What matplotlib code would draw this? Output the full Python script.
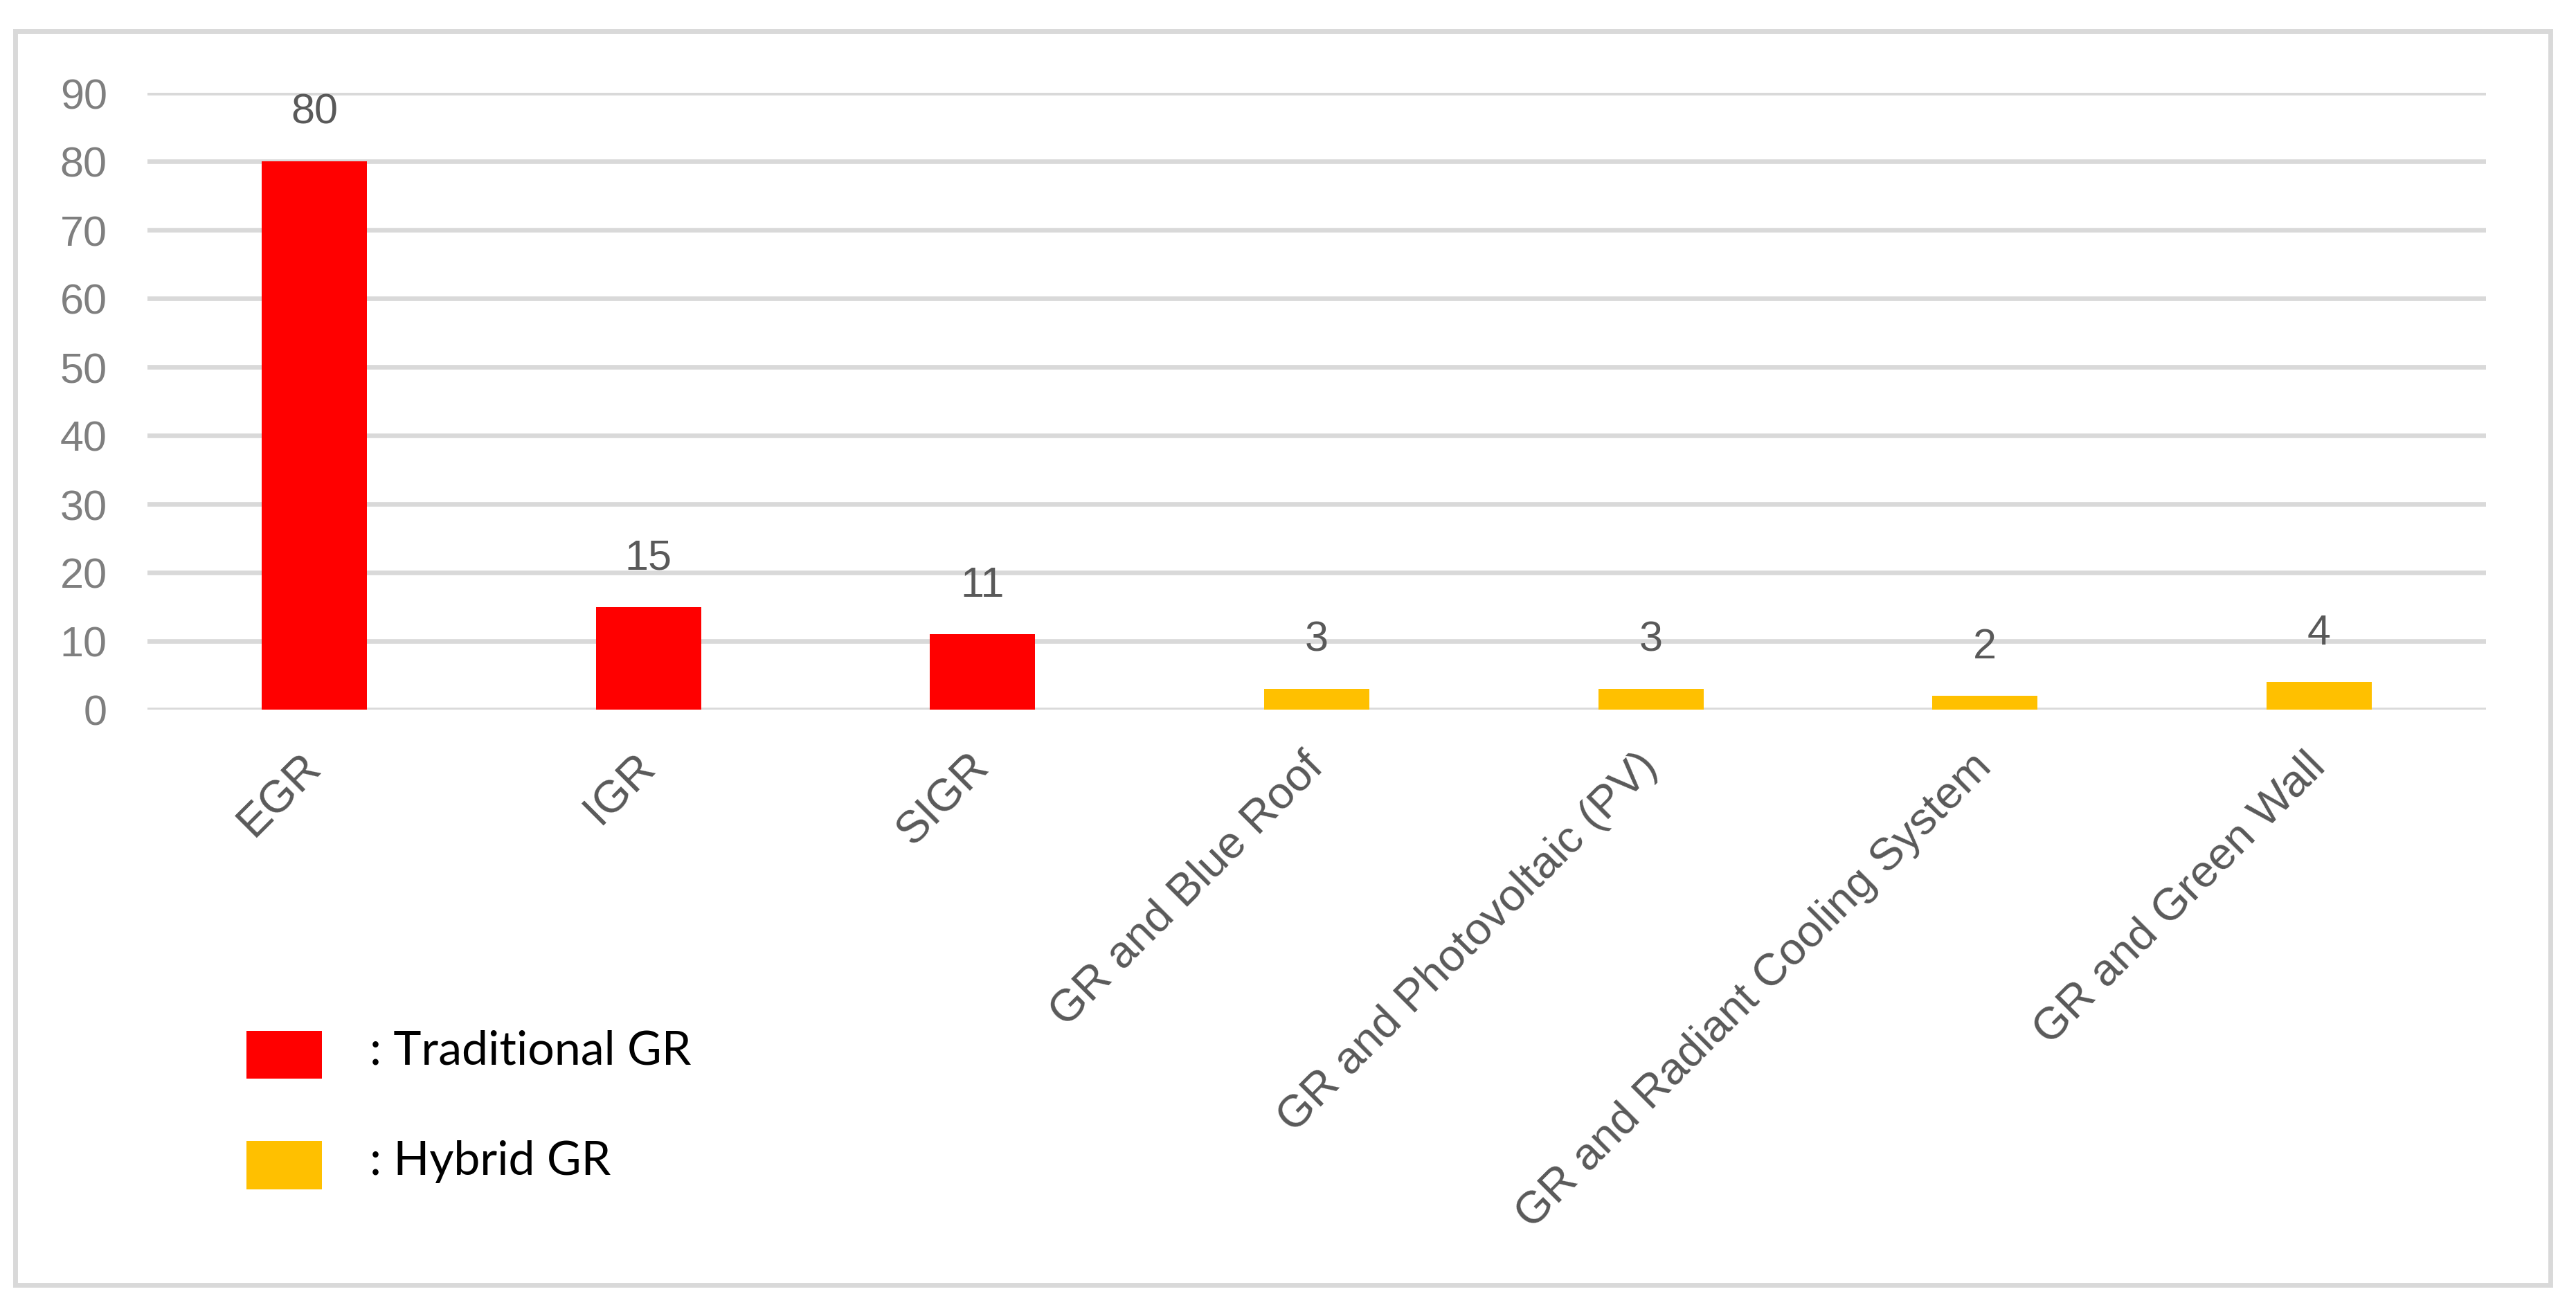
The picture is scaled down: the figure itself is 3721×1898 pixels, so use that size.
import matplotlib
matplotlib.use("Agg")
import matplotlib.pyplot as plt
from matplotlib.patches import Rectangle

plt.rcParams['font.family'] = ['Liberation Sans', 'DejaVu Sans']

# data
categories = ['EGR', 'IGR', 'SIGR', 'GR and Blue Roof', 'GR and Photovoltaic (PV)',
              'GR and Radiant Cooling System', 'GR and Green Wall']
counts = [80, 15, 11, 3, 3, 2, 4]
groups = ['Traditional', 'Traditional', 'Traditional', 'Hybrid', 'Hybrid', 'Hybrid', 'Hybrid']
group_colors = {'Traditional': '#FF0000', 'Hybrid': '#FFC000'}
legend_labels = [': Traditional GR', ': Hybrid GR']
yticks = list(range(0, 91, 10))

W, H = 3721, 1899
fig = plt.figure(figsize=(W / 100, H / 100), dpi=100)

# axes placed in pixel terms of the reference
left, right, top, bottom = 213, 3591, 135, 1026
ax = fig.add_axes([left / W, 1 - bottom / H, (right - left) / W, (bottom - top) / H])

x = range(len(categories))
bars = ax.bar(x, counts, width=0.315, color=[group_colors[g] for g in groups], zorder=3)

ax.set_xlim(-0.5, len(categories) - 0.5)
ax.set_ylim(0, 90)
ax.set_yticks(yticks)
ax.yaxis.grid(True, color='#D9D9D9', linewidth=4.8, zorder=0)
ax.set_axisbelow(True)
for s in ax.spines.values():
    s.set_visible(False)

ax.tick_params(axis='y', length=0, pad=42, labelsize=44, labelcolor='#7F7F7F')
ax.tick_params(axis='x', length=0, pad=52, labelsize=47, labelcolor='#595959')
ax.set_xticks(list(x))
ax.set_xticklabels(categories, rotation=45, ha='right', va='center', rotation_mode='anchor')

# value labels above bars
for b, v in zip(bars, counts):
    ax.annotate(str(v), (b.get_x() + b.get_width() / 2, v), xytext=(0, 51),
                textcoords='offset points', ha='center', va='center',
                fontsize=44, color='#595959')

# hand-made legend
sw_x0, sw_x1 = 356, 465
sw_rows = [(1490, 1559, 1538), (1649, 1719, 1697)]
for (y0, y1, base), lab, col in zip(sw_rows, legend_labels, group_colors.values()):
    fig.add_artist(Rectangle((sw_x0 / W, 1 - y1 / H), (sw_x1 - sw_x0) / W, (y1 - y0) / H,
                             transform=fig.transFigure, color=col, lw=0))
    fig.text(534 / W, 1 - base / H, lab, fontsize=49, color='black',
             family=['Lato', 'DejaVu Sans'], va='baseline', ha='left')

# outer frame
fx0, fx1, fy0, fy1 = 22, 3684, 46, 1857
fig.add_artist(Rectangle((fx0 / W, 1 - fy1 / H), (fx1 - fx0) / W, (fy1 - fy0) / H,
                         transform=fig.transFigure, fill=False, edgecolor='#D9D9D9', lw=5))

fig.savefig('out.png', dpi=100, facecolor='white')
